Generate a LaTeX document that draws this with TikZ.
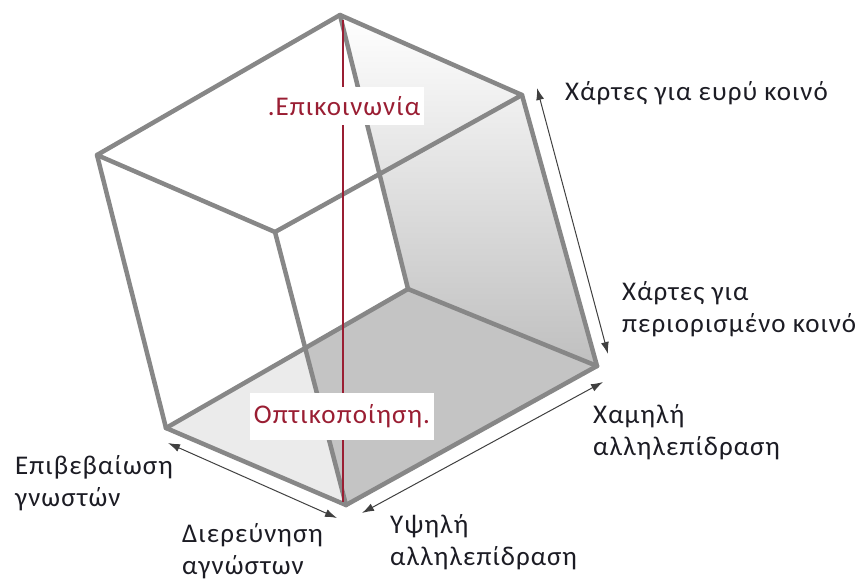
\documentclass[tikz,border=0pt]{standalone}
\usepackage{fontspec}
\setmainfont{Carlito}
\usepackage{tikz}
\usetikzlibrary{arrows.meta}
\definecolor{cubeedge}{HTML}{878787}
\definecolor{axisred}{HTML}{9A1E33}
\definecolor{inkdark}{HTML}{1C1C24}
\newcommand{\labelfont}{\fontsize{27}{32}\selectfont\addfontfeatures{LetterSpace=4}}

\begin{document}
\begin{tikzpicture}[x=1pt,y=-1pt,
    cubeline/.style={draw=cubeedge,line width=4.5pt,line cap=round,line join=round},
    span/.style={{Latex[length=12pt,width=8pt]}-{Latex[length=12pt,width=8pt]},draw=black!75,line width=1pt},
    caption/.style={anchor=west,align=left,inner sep=0pt,text=inkdark,font=\labelfont},
    axislabel/.style={fill=white,text=axisred,inner xsep=4pt,font=\labelfont}]
  \useasboundingbox (0,0) rectangle (861,580);
  \coordinate (T) at (340,15);
  \coordinate (L) at (97,155);
  \coordinate (R) at (522,95);
  \coordinate (F) at (275,232);
  \coordinate (BB) at (408,289);
  \coordinate (BL) at (166,428);
  \coordinate (BR) at (597,366);
  \coordinate (B) at (346,505);
  \coordinate (X) at (intersection of BL--BB and F--B);
  % shaded back and floor faces
  \shade[top color=white,bottom color=black!25] (T) -- (R) -- (BR) -- (BB) -- cycle;
  \fill[black!23] (BL) -- (BB) -- (BR) -- (B) -- cycle;
  \fill[black!8] (BL) -- (X) -- (B) -- cycle;
  \draw[cubeline] (T) -- (L) -- (F) -- (R) -- cycle;
  \foreach \a/\b in {L/BL,T/BB,R/BR,F/B,BL/BB,BB/BR,BL/B,B/BR}
    \draw[cubeline] (\a) -- (\b);
  % vertical axis
  \coordinate (axtop) at (343,20);
  \coordinate (axbot) at (343,502);
  \draw[axisred,line width=1.8pt] (axtop) -- (axbot);
  \node[axislabel,minimum height=38pt] (comm) at (344,106) {.Επικοινωνία};
  \node[axislabel,minimum height=47pt] (vis) at (342,416) {Οπτικοποίηση.};
  % dimension arrows
  \coordinate (a1) at (537,88);  \coordinate (a2) at (608,354);
  \coordinate (b1) at (362,513); \coordinate (b2) at (603,382);
  \coordinate (c1) at (168,443); \coordinate (c2) at (337,518);
  \draw[span] (a1) -- (a2);
  \draw[span] (b1) -- (b2);
  \draw[span] (c1) -- (c2);
  \node[caption] (wide) at (565,93) {Χάρτες για ευρύ κοινό};
  \node[caption] (narrow) at (622,309) {Χάρτες για\\περιορισμένο κοινό};
  \node[caption] (low) at (593,432) {Χαμηλή\\αλληλεπίδραση};
  \node[caption] (high) at (390,542) {Υψηλή\\αλληλεπίδραση};
  \node[caption] (confirm) at (15,483) {Επιβεβαίωση\\γνωστών};
  \node[caption] (explore) at (182,551) {Διερεύνηση\\αγνώστων};
\end{tikzpicture}
\end{document}
